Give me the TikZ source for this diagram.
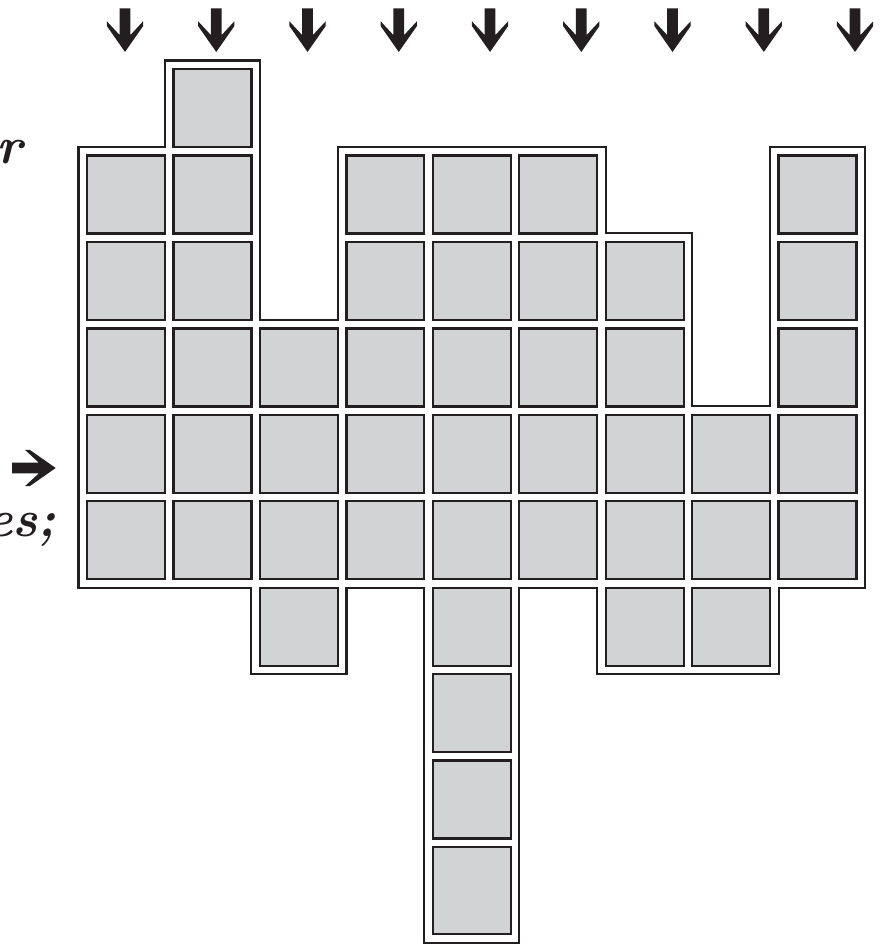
\documentclass[tikz,border=0pt]{standalone}
\usepackage{xcolor}
\definecolor{boardink}{HTML}{231F20}
\definecolor{boardfill}{HTML}{D1D3D4}

\begin{document}
\begin{tikzpicture}[x=1cm, y=1cm,
    cell/.style={draw=boardink, fill=boardfill, line width=0.75pt},
    rim/.style={draw=boardink, line width=0.7pt},
    cut/.style={boardink, inner sep=0pt, font=\fontsize{17}{20}\selectfont\bfseries\itshape},
    heavyarrow/.pic={
      \fill[boardink] (-0.062,0) -- (0.062,0) -- (0.062,-0.310) -- (0.210,-0.150)
        -- (0.210,-0.205) -- (0,-0.505) -- (-0.210,-0.205) -- (-0.210,-0.150)
        -- (-0.062,-0.310) -- cycle;}]

  \useasboundingbox (-0.458,1.250) rectangle (9.746,-9.682);

  %% outer rim round the whole board
  \draw[rim] (0.45,-0.45) -- (1.45,-0.45) -- (1.45,0.55) -- (2.55,0.55)
    -- (2.55,-2.45) -- (3.45,-2.45) -- (3.45,-0.45) -- (6.55,-0.45)
    -- (6.55,-1.45) -- (7.55,-1.45) -- (7.55,-3.45) -- (8.45,-3.45)
    -- (8.45,-0.45) -- (9.55,-0.45) -- (9.55,-5.55) -- (8.55,-5.55)
    -- (8.55,-6.55) -- (6.45,-6.55) -- (6.45,-5.55) -- (5.55,-5.55)
    -- (5.55,-9.655) -- (4.45,-9.655) -- (4.45,-5.55) -- (3.55,-5.55)
    -- (3.55,-6.55) -- (2.45,-6.55) -- (2.45,-5.55) -- (0.45,-5.55) -- cycle;

  %% cells, column by column (first and last row)
  \foreach \col/\rtop/\rbot in {1/1/5, 2/0/5, 3/3/6, 4/1/5, 5/1/8, 6/1/5, 7/2/6, 8/4/6, 9/1/5}
    \foreach \row in {\rtop,...,\rbot}
      \draw[cell] ({\col-0.451},{-\row+0.451}) rectangle ({\col+0.451},{-\row-0.451});

  %% the long column ends in a taller cell
  \draw[cell] (4.549,-8.549) rectangle (5.451,-9.555);

  %% drop arrows above the columns
  \foreach \k in {0,...,8}
    \pic at ({0.988+1.0557*\k},1.154) {heavyarrow};

  %% side arrow pointing at the board
  \pic[rotate=90] at (-0.319,-4.164) {heavyarrow};

  %% word ends cut off at the left margin
  \node[cut, anchor=base east] (wordend) at (-0.19,-0.636) {r};
  \node[cut, anchor=base east] (lineend) at (0.20,-4.951) {es;};

\end{tikzpicture}
\end{document}
